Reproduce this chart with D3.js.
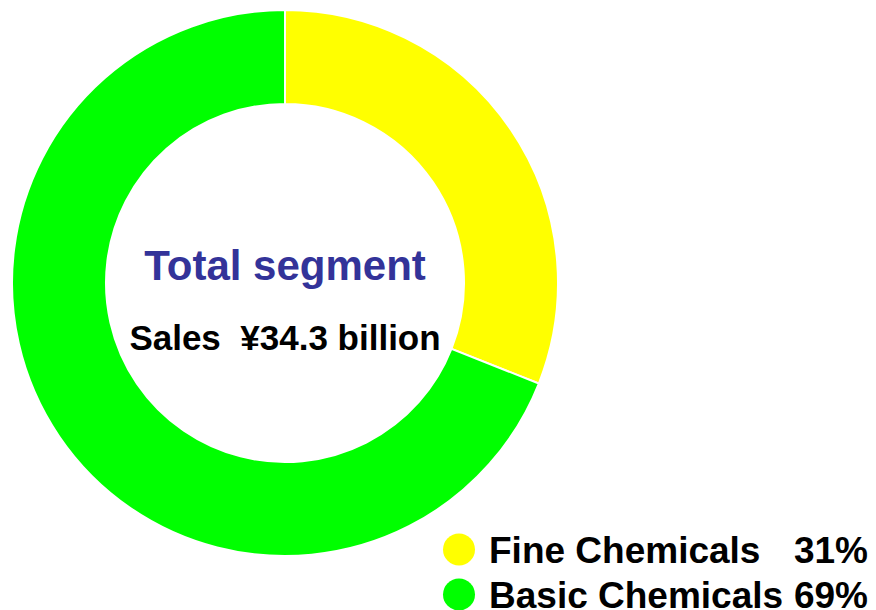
<!DOCTYPE html>
<html>
<head>
<meta charset="utf-8">
<script src="https://cdn.jsdelivr.net/npm/d3@7/dist/d3.min.js"></script>
<style>
  body { margin: 0; background: #fff; }
  text { font-family: "Liberation Sans", Arial, sans-serif; font-weight: bold; white-space: pre; }
</style>
</head>
<body>
<svg width="876" height="610"></svg>
<script>
// segment shares (%)
const segments = ["Fine Chemicals", "Basic Chemicals"];
const shares = [31, 69];
const colours = ["#ffff00", "#00ff00"];

const title = "Total segment";
const subtitle = "Sales  ¥34.3 billion";

const svg = d3.select("svg");

// donut
const cx = 285, cy = 283;
const outerR = 273, innerR = 179;

const pie = d3.pie().sort(null).value(d => d.value);
const arc = d3.arc().innerRadius(innerR).outerRadius(outerR);

const data = segments.map((s, i) => ({ name: s, value: shares[i], colour: colours[i] }));

const donut = svg.append("g").attr("transform", "translate(" + cx + "," + cy + ")");
donut.selectAll("path")
    .data(pie(data)).enter()
    .append("path")
    .attr("d", arc)
    .style("fill", d => d.data.colour)
    .style("stroke", "#fff")
    .style("stroke-width", 2);

// centre labels
donut.append("text")
    .attr("x", 0)
    .attr("y", -3)
    .attr("text-anchor", "middle")
    .style("font-size", "42px")
    .style("fill", "#333399")
    .text(title);

donut.append("text")
    .attr("x", 0)
    .attr("y", 67)
    .attr("text-anchor", "middle")
    .style("font-size", "35px")
    .style("fill", "#000")
    .text(subtitle);

// legend
const legend = svg.append("g");
const rowY = d3.scaleBand().domain(segments).range([527, 617]);

const rows = legend.selectAll("g")
    .data(data).enter()
    .append("g")
    .attr("transform", d => "translate(0," + (rowY(d.name) + rowY.bandwidth() / 2) + ")");

rows.append("circle")
    .attr("cx", 459)
    .attr("cy", 0)
    .attr("r", 16)
    .style("fill", d => d.colour);

rows.append("text")
    .attr("x", 489)
    .attr("y", 13)
    .style("font-size", "37px")
    .text(d => d.name);

rows.append("text")
    .attr("x", 868)
    .attr("y", 13)
    .attr("text-anchor", "end")
    .style("font-size", "37px")
    .text(d => d.value + "%");
</script>
</body>
</html>
